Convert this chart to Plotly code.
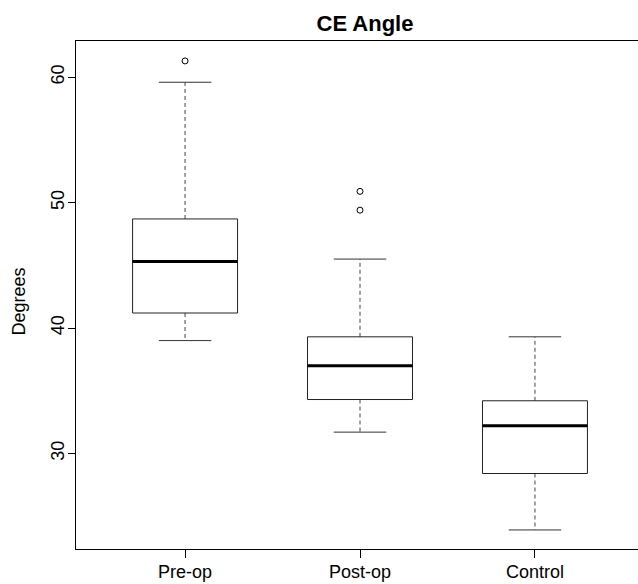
import plotly.graph_objects as go

groups = ["Pre-op", "Post-op", "Control"]
q1 = [41.2, 34.3, 28.4]
median = [45.3, 37.0, 32.2]
q3 = [48.7, 39.3, 34.2]
lower_whisker = [39.0, 31.7, 23.9]
upper_whisker = [59.6, 45.5, 39.3]
outliers = {"Pre-op": [61.3], "Post-op": [50.9, 49.4], "Control": []}

positions = [1, 2, 3]
BOX_HALF = 0.3
CAP_HALF = 0.15
FONT = "Liberation Sans, Arial, Helvetica, sans-serif"

box_x, box_y = [], []
med_x, med_y = [], []
wh_x, wh_y = [], []
cap_x, cap_y = [], []
out_x, out_y = [], []
for i, g in enumerate(groups):
    p = positions[i]
    box_x += [p - BOX_HALF, p + BOX_HALF, p + BOX_HALF, p - BOX_HALF, p - BOX_HALF, None]
    box_y += [q1[i], q1[i], q3[i], q3[i], q1[i], None]
    med_x += [p - BOX_HALF, p + BOX_HALF, None]
    med_y += [median[i], median[i], None]
    wh_x += [p, p, None, p, p, None]
    wh_y += [q3[i], upper_whisker[i], None, q1[i], lower_whisker[i], None]
    cap_x += [p - CAP_HALF, p + CAP_HALF, None, p - CAP_HALF, p + CAP_HALF, None]
    cap_y += [upper_whisker[i], upper_whisker[i], None, lower_whisker[i], lower_whisker[i], None]
    for v in outliers[g]:
        out_x.append(p)
        out_y.append(v)

fig = go.Figure()
fig.add_trace(go.Scatter(x=wh_x, y=wh_y, mode="lines",
                         line=dict(color="#444444", width=1, dash="4px,3px"),
                         hoverinfo="skip", showlegend=False))
fig.add_trace(go.Scatter(x=cap_x, y=cap_y, mode="lines",
                         line=dict(color="#333333", width=1),
                         hoverinfo="skip", showlegend=False))
fig.add_trace(go.Scatter(x=box_x, y=box_y, mode="lines",
                         line=dict(color="#222222", width=1),
                         hoverinfo="skip", showlegend=False))
fig.add_trace(go.Scatter(x=med_x, y=med_y, mode="lines",
                         line=dict(color="#000000", width=3),
                         hoverinfo="skip", showlegend=False))
fig.add_trace(go.Scatter(x=out_x, y=out_y, mode="markers",
                         marker=dict(symbol="circle-open", size=6,
                                     color="#000000", line=dict(width=1)),
                         hoverinfo="skip", showlegend=False))

fig.update_layout(
    width=638, height=584,
    margin=dict(l=76, r=0, t=41, b=35, autoexpand=False),
    plot_bgcolor="white", paper_bgcolor="white",
    font=dict(family=FONT, size=18, color="#000000"),
    title=dict(text="<b>CE Angle</b>", font=dict(family=FONT, size=22, color="#000000"),
               x=365 / 638, xref="container", xanchor="center",
               y=1 - 23 / 584, yref="container", yanchor="middle"),
    xaxis=dict(range=[0.3766, 3.589], tickmode="array", tickvals=positions,
               ticktext=groups, showgrid=False, zeroline=False, automargin=False,
               showline=True, linecolor="#000000", linewidth=1, mirror=True,
               ticks="outside", ticklen=8, tickcolor="#000000", tickwidth=1,
               ticklabelstandoff=-2, tickfont=dict(size=18)),
    yaxis=dict(range=[22.38, 62.89], tickmode="array", tickvals=[30, 40, 50, 60],
               showgrid=False, zeroline=False, automargin=False,
               showline=True, linecolor="#000000", linewidth=1, mirror=False,
               ticks="outside", ticklen=7, tickcolor="#000000", tickwidth=1,
               ticklabelstandoff=-3, tickangle=-90, tickfont=dict(size=18)),
    annotations=[dict(text="Degrees", textangle=-90, x=0, xref="paper",
                      xanchor="center", xshift=18.5 - 76, y=(549 - 302) / 508,
                      yref="paper", yanchor="middle", showarrow=False,
                      font=dict(family=FONT, size=18, color="#000000"))],
)

fig.write_html("out.html", config={"displayModeBar": False},
               post_script="document.body.style.margin='0';document.body.style.overflow='hidden';")
